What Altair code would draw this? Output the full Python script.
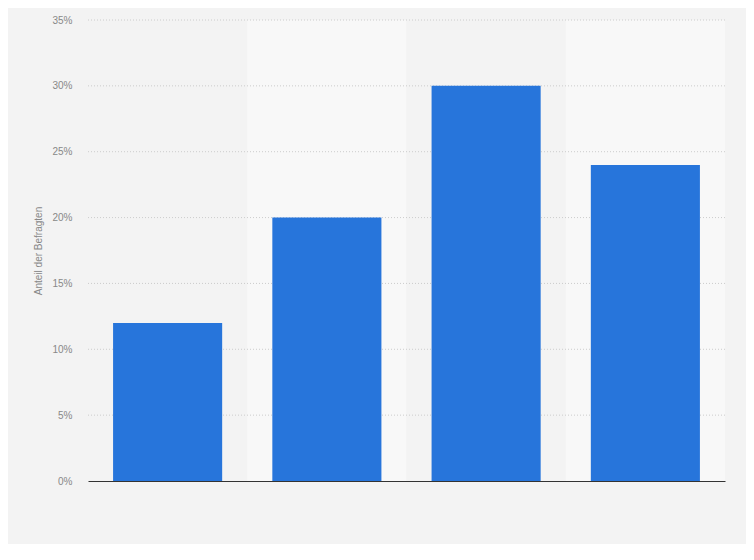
import altair as alt
import pandas as pd

categories = ["1", "2", "3", "4"]
values = [12, 20, 30, 24]
shades = ["a", "b", "a", "b"]
tick_values = [5, 10, 15, 20, 25, 30, 35]

df = pd.DataFrame({"cat": categories, "val": values, "shade": shades})
grid_df = pd.DataFrame({"tick": tick_values})

x_enc = alt.X("cat:N", sort=categories,
              scale=alt.Scale(paddingInner=0, paddingOuter=0),
              axis=alt.Axis(title=None, labels=False, ticks=False, domain=True,
                            domainColor="#333333", domainWidth=1, grid=False))

y_scale = alt.Scale(domain=[0, 35])

bands = alt.Chart(df).mark_rect().encode(
    x=x_enc,
    y=alt.value(0),
    y2=alt.value(461),
    color=alt.Color("shade:N", scale=alt.Scale(domain=["a", "b"], range=["#f3f3f3", "#f8f8f8"]), legend=None),
)

grid = alt.Chart(grid_df).mark_rule(color="#cccccc", strokeDash=[1, 2], strokeWidth=1).encode(
    y=alt.Y("tick:Q", scale=y_scale),
    x=alt.value(0),
    x2=alt.value(637),
)

bars = alt.Chart(df).mark_bar(color="#2775db", width={"band": 0.685}).encode(
    x=alt.X("cat:N", sort=categories),
    y=alt.Y("val:Q", scale=y_scale,
            axis=alt.Axis(title="Anteil der Befragten", values=[0] + tick_values,
                          labelExpr="datum.value + '%'", domain=False, ticks=False,
                          grid=False,
                          labelColor="#888888", labelFontSize=10, labelFont="Arial",
                          labelPadding=16, titleColor="#888888", titleFontSize=10,
                          titleFont="Arial", titleFontWeight="normal", titlePadding=8)),
)

chart = alt.layer(bands, grid, bars).properties(
    width=637, height=461,
    background="#f3f3f3",
    autosize=alt.AutoSizeParams(type="none"),
    padding={"left": 80, "top": 12, "right": 21, "bottom": 63},
).configure_view(stroke=None, fill="#f3f3f3")

chart.save("out.html", embed_options={"renderer": "svg", "actions": False})
